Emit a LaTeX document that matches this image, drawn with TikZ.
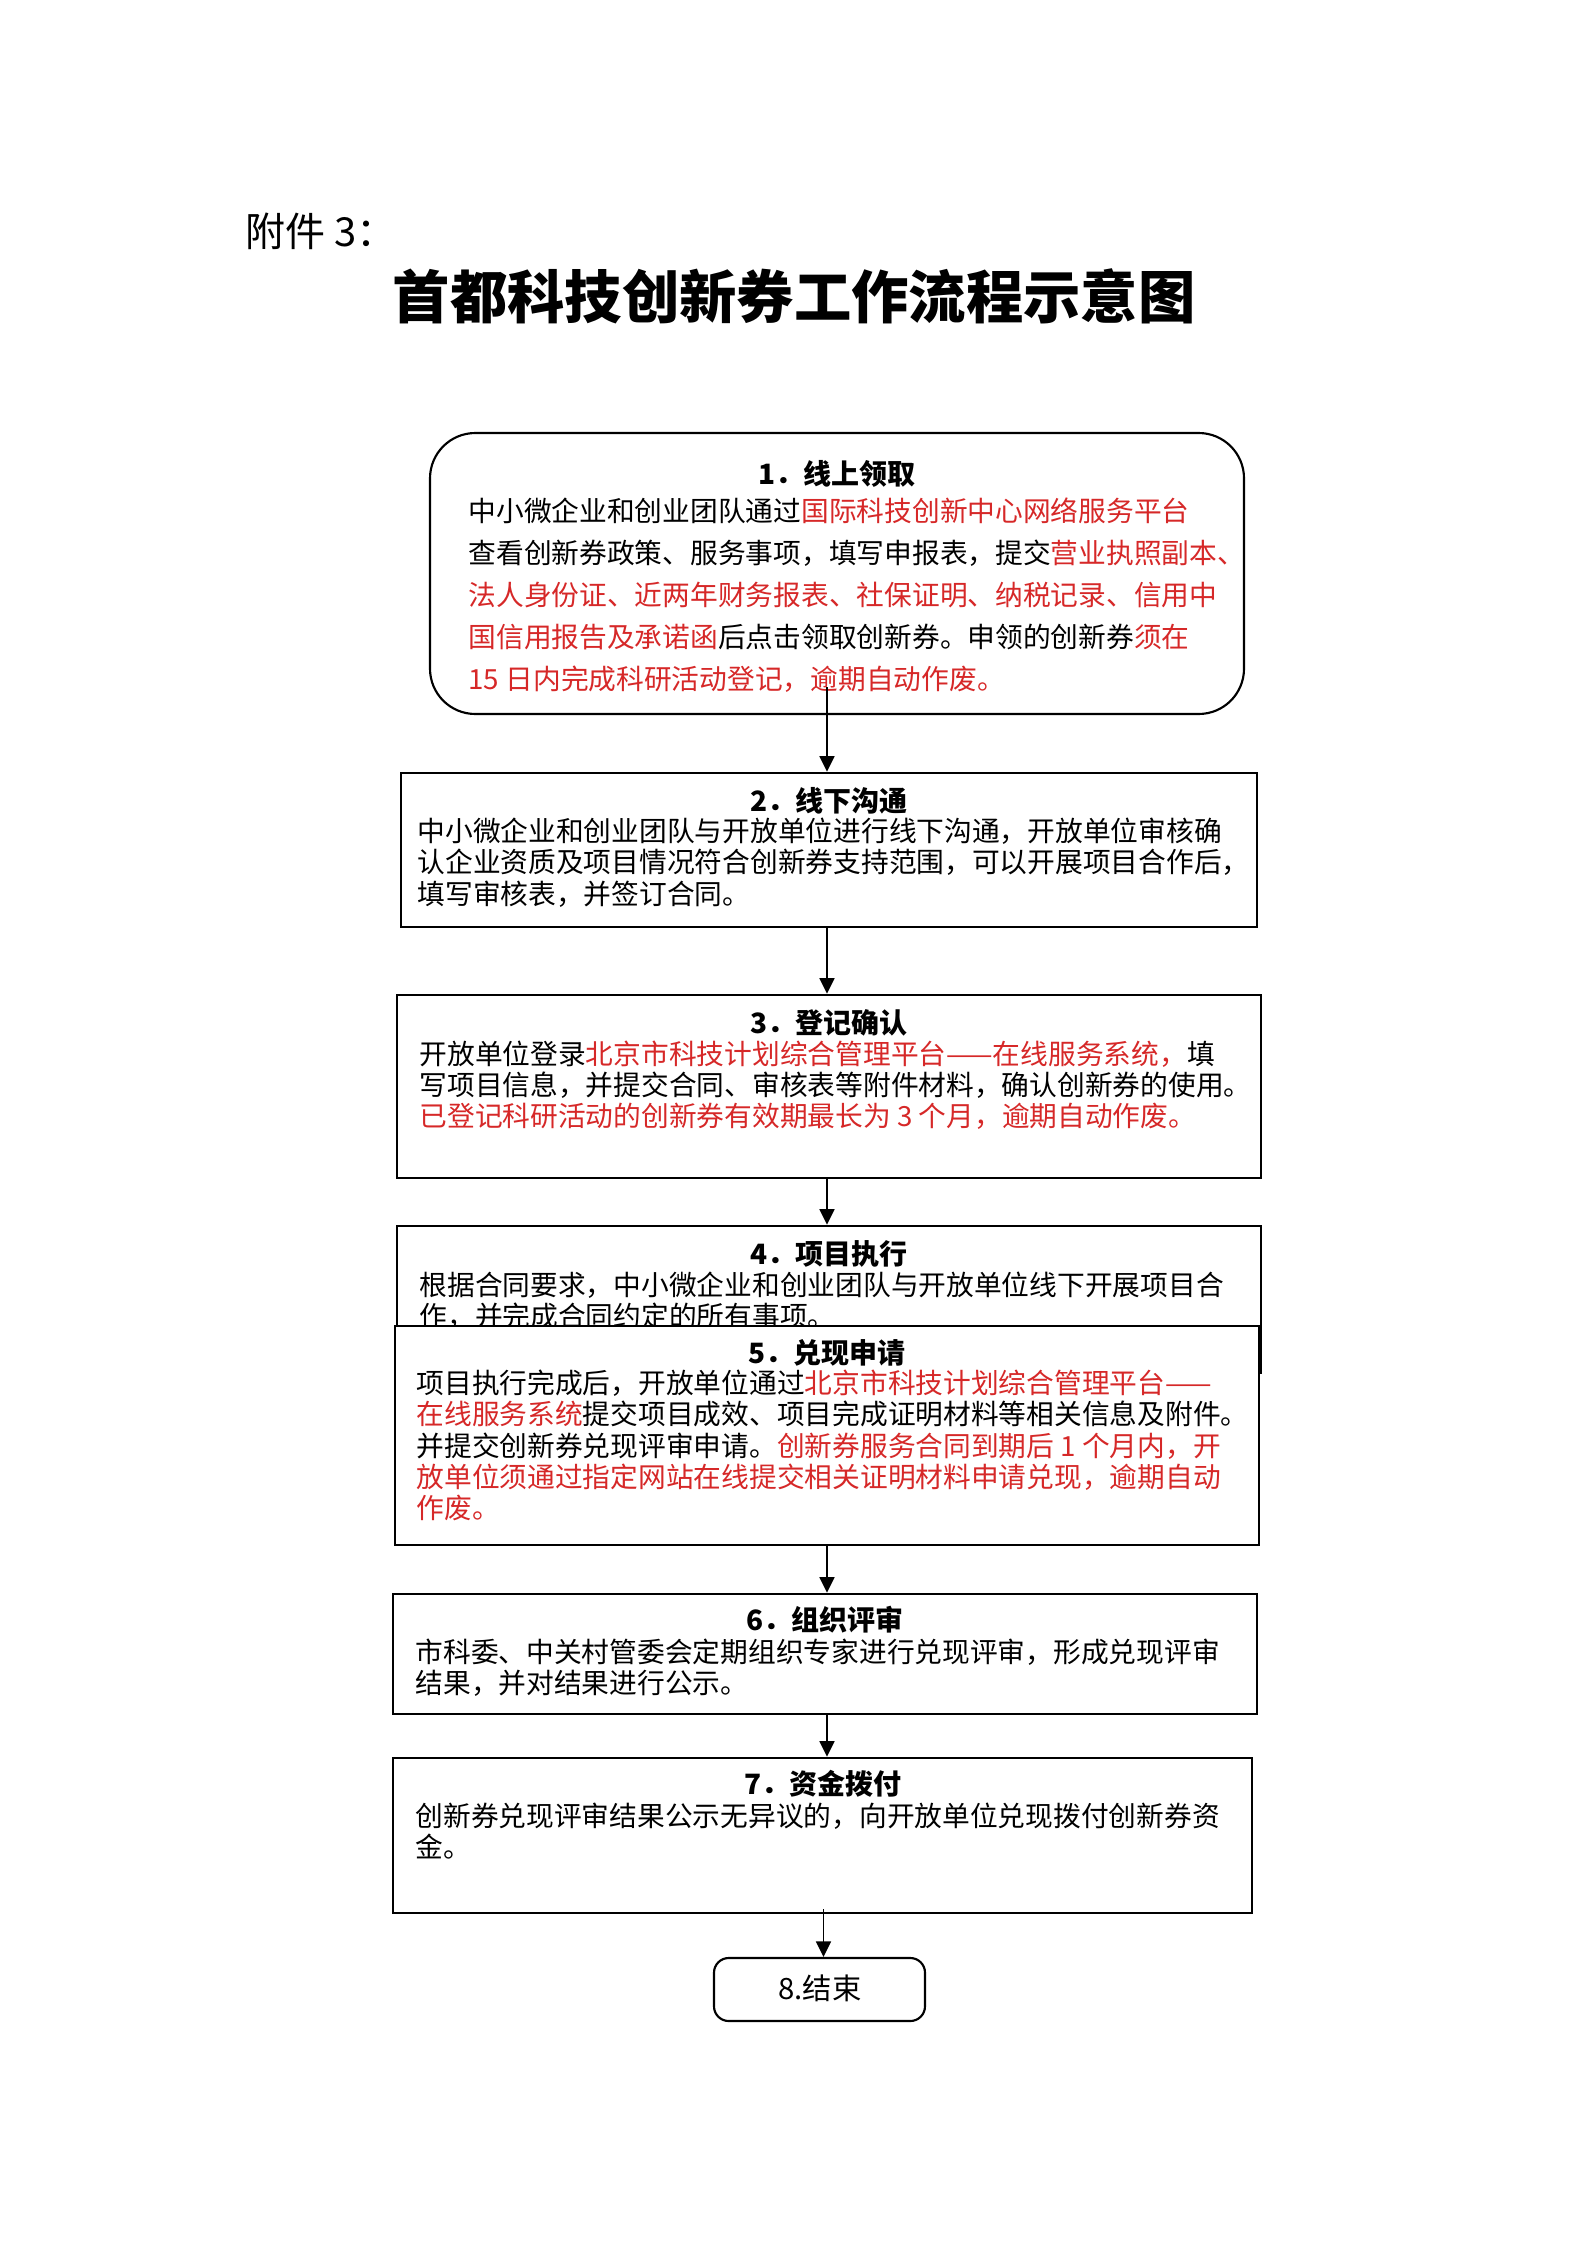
\documentclass[tikz,border=0pt]{standalone}
\usepackage{fontspec}
\newfontfamily\cjk{Noto Sans CJK SC}
\usetikzlibrary{arrows.meta,fit}
\definecolor{hotred}{RGB}{214,40,40}
\newcommand{\redtxt}[1]{\textcolor{hotred}{#1}}
\tikzset{
	stepbox/.style={draw, line width=1pt, inner sep=0pt},
	roundbox/.style={stepbox, line width=0.8pt, rounded corners=17pt},
	heading/.style={font=\cjk\bfseries\fontsize{10.5pt}{12pt}\selectfont, inner sep=0pt},
	body/.style={font=\cjk\fontsize{10.4pt}{11.8pt}\selectfont, align=left, anchor=north west, inner sep=0pt},
	flow/.style={->, line width=0.6pt},
}
\begin{document}
\begin{tikzpicture}[x=0.375pt,y=-0.375pt,>={Triangle[length=5.8pt,width=5.6pt]}]
	\useasboundingbox (0,0) rectangle (1587,2245);
	% header
	\node[anchor=west, inner sep=0pt, font=\cjk\fontsize{15pt}{18pt}\selectfont] (annex) at (245,231) {附件 3：};
	\node[inner sep=0pt, font=\cjk\bfseries\fontsize{21.5pt}{24pt}\selectfont] (title) at (794,296) {首都科技创新券工作流程示意图};
	% 1
	\node[roundbox, fit={(430,433) (1244,714)}] (b1) {};
	\node[heading] (h1) at (837,474) {1．线上领取};
	\node[body, font=\cjk\fontsize{10.4pt}{15.75pt}\selectfont] (t1) at (468,497) {中小微企业和创业团队通过\redtxt{国际科技创新中心网络服务平台}\\
		查看创新券政策、服务事项，填写申报表，提交\redtxt{营业执照副本、}\\
		\redtxt{法人身份证、近两年财务报表、社保证明、纳税记录、信用中}\\
		\redtxt{国信用报告及承诺函}后点击领取创新券。申领的创新券\redtxt{须在}\\
		\redtxt{15 日内完成科研活动登记，逾期自动作废。}};
	% 2
	\node[stepbox, fit={(401,773) (1257,927)}] (b2) {};
	\node[heading] (h2) at (829,801) {2．线下沟通};
	\node[body] (t2) at (417,817) {中小微企业和创业团队与开放单位进行线下沟通，开放单位审核确\\
		认企业资质及项目情况符合创新券支持范围，可以开展项目合作后，\\
		填写审核表，并签订合同。};
	% 3
	\node[stepbox, fit={(397,995) (1261,1178)}] (b3) {};
	\node[heading] (h3) at (829,1023) {3．登记确认};
	\node[body] (t3) at (419,1040) {开放单位登录\redtxt{北京市科技计划综合管理平台——在线服务系统，}填\\
		写项目信息，并提交合同、审核表等附件材料，确认创新券的使用。\\
		\redtxt{已登记科研活动的创新券有效期最长为 3 个月，逾期自动作废。}};
	% 4
	\node[stepbox, fit={(397,1226) (1261,1373)}] (b4) {};
	\node[heading] (h4) at (829,1254) {4．项目执行};
	\node[body] (t4) at (419,1271) {根据合同要求，中小微企业和创业团队与开放单位线下开展项目合\\
		作，并完成合同约定的所有事项。};
	% 5 (drawn over 4)
	\node[stepbox, fill=white, fit={(395,1326) (1259,1545)}] (b5) {};
	\node[heading] (h5) at (827,1353) {5．兑现申请};
	\node[body] (t5) at (416,1369) {项目执行完成后，开放单位通过\redtxt{北京市科技计划综合管理平台——}\\
		\redtxt{在线服务系统}提交项目成效、项目完成证明材料等相关信息及附件。\\
		并提交创新券兑现评审申请。\redtxt{创新券服务合同到期后 1 个月内，开}\\
		\redtxt{放单位须通过指定网站在线提交相关证明材料申请兑现，逾期自动}\\
		\redtxt{作废。}};
	% 6
	\node[stepbox, fit={(393,1594) (1257,1714)}] (b6) {};
	\node[heading] (h6) at (825,1620) {6．组织评审};
	\node[body] (t6) at (415,1638) {市科委、中关村管委会定期组织专家进行兑现评审，形成兑现评审\\
		结果，并对结果进行公示。};
	% 7
	\node[stepbox, fit={(393,1758) (1252,1913)}] (b7) {};
	\node[heading] (h7) at (823,1784) {7．资金拨付};
	\node[body] (t7) at (415,1802) {创新券兑现评审结果公示无异议的，向开放单位兑现拨付创新券资\\
		金。};
	% 8
	\node[stepbox, line width=0.8pt, rounded corners=5.5pt, fit={(714,1958) (925,2021)}] (b8) {};
	\node[inner sep=0pt, font=\cjk\fontsize{11pt}{13pt}\selectfont] (h8) at (820,1988) {8.结束};
	% arrows
	\coordinate (col) at (827,687);
	\draw[flow] (col) -- (col |- b2.north);
	\draw[flow] (col |- b2.south) -- (col |- b3.north);
	\draw[flow] (col |- b3.south) -- (col |- b4.north);
	\draw[flow] (col |- b5.south) -- (col |- b6.north);
	\draw[flow] (col |- b6.south) -- (col |- b7.north);
	\draw[flow] ([xshift=1.5pt,yshift=2pt]b8.north |- b7.south) -- ([xshift=1.5pt]b8.north);
\end{tikzpicture}
\end{document}
